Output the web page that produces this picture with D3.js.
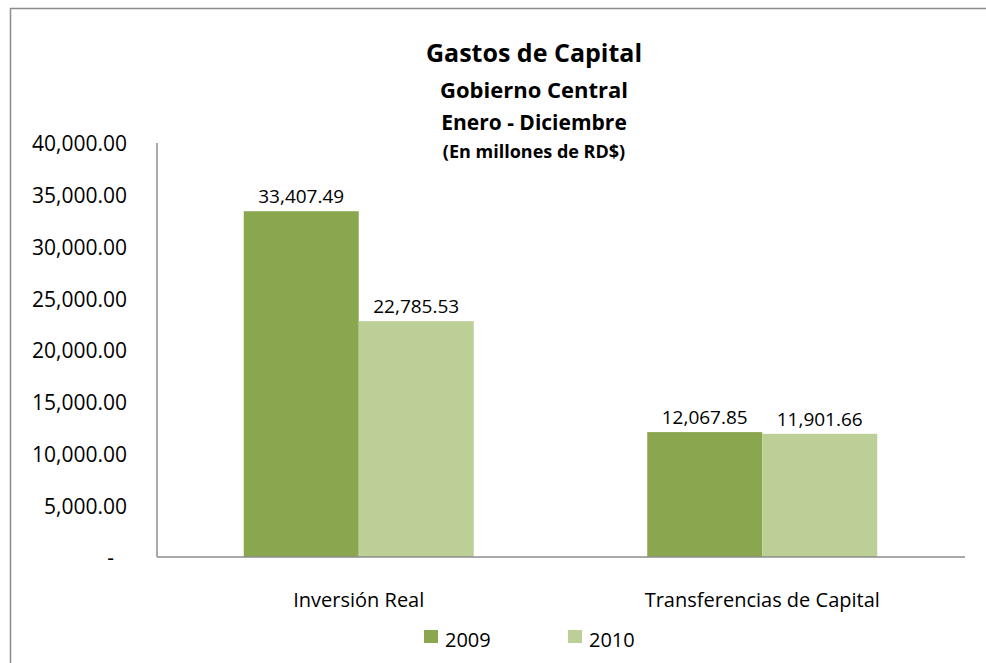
<!DOCTYPE html>
<html>
<head>
<meta charset="utf-8">
<script src="https://cdn.jsdelivr.net/npm/d3@7"></script>
<style>
  body { margin: 0; background: #fff; }
  svg { display: block; font-family: "Open Sans", sans-serif; }
</style>
</head>
<body>
<svg id="chart" width="986" height="663"></svg>
<script>
// chart data
var categories = ['Inversión Real', 'Transferencias de Capital'];
var seriesNames = ['2009', '2010'];
var values2009 = [33407.49, 12067.85];
var values2010 = [22785.53, 11901.66];
var yTicks = [0, 5000, 10000, 15000, 20000, 25000, 30000, 35000, 40000];
var titleLines = ['Gastos de Capital', 'Gobierno Central', 'Enero - Diciembre', '(En millones de RD$)'];

var colors = ['#8aa64f', '#bbcf97'];
var svg = d3.select('#chart');

// outer frame (runs past the picture on right and bottom)
svg.append('rect')
  .attr('x', 10.5).attr('y', 8.5)
  .attr('width', 1000).attr('height', 700)
  .attr('fill', 'none')
  .attr('stroke', '#8c8c8c')
  .attr('stroke-width', 1.5);

var plot = { left: 157, right: 964, top: 143, bottom: 557 };

var x0 = d3.scaleBand()
  .domain(categories)
  .range([plot.left, plot.right])
  .paddingInner(0.43)
  .paddingOuter(0.215);

var x1 = d3.scaleBand()
  .domain(seriesNames)
  .range([0, x0.bandwidth()]);

var y = d3.scaleLinear()
  .domain([0, 40000])
  .range([plot.bottom, plot.top]);

var fmt = d3.format(',.2f');

// y axis labels
var yAxis = d3.axisLeft(y)
  .tickValues(yTicks)
  .tickSize(0)
  .tickPadding(30)
  .tickFormat(function (d) { return d === 0 ? '-' : fmt(d); });

var gy = svg.append('g')
  .attr('transform', 'translate(' + plot.left + ',0)')
  .call(yAxis);
gy.select('.domain').remove();
gy.selectAll('text')
  .attr('font-size', 21)
  .attr('fill', '#000')
  .attr('dy', '0.38em')
  .attr('dx', function (d) { return d === 0 ? -13 : 0; })
  .attr('font-family', '"Open Sans", sans-serif');

var rows = [values2009, values2010];
var groups = svg.append('g').selectAll('g')
  .data(categories)
  .join('g')
  .attr('transform', function (d) { return 'translate(' + x0(d) + ',0)'; });

groups.selectAll('rect')
  .data(function (d, i) {
    return seriesNames.map(function (s, j) { return { s: s, v: rows[j][i], j: j }; });
  })
  .join('rect')
  .attr('x', function (d) { return x1(d.s); })
  .attr('y', function (d) { return y(d.v); })
  .attr('width', x1.bandwidth())
  .attr('height', function (d) { return y(0) - y(d.v); })
  .attr('fill', function (d) { return colors[d.j]; });

groups.selectAll('text.val')
  .data(function (d, i) {
    return seriesNames.map(function (s, j) { return { s: s, v: rows[j][i] }; });
  })
  .join('text')
  .attr('class', 'val')
  .attr('x', function (d) { return x1(d.s) + x1.bandwidth() / 2; })
  .attr('y', function (d) { return y(d.v) - 8; })
  .attr('text-anchor', 'middle')
  .attr('font-size', 19)
  .text(function (d) { return fmt(d.v); });

// axis lines
svg.append('line')
  .attr('x1', plot.left).attr('x2', plot.left)
  .attr('y1', plot.top).attr('y2', plot.bottom)
  .attr('stroke', '#8c8c8c').attr('stroke-width', 1.5);
svg.append('line')
  .attr('x1', plot.left).attr('x2', plot.right + 1)
  .attr('y1', plot.bottom).attr('y2', plot.bottom)
  .attr('stroke', '#8c8c8c').attr('stroke-width', 1.5);

// category labels
svg.append('g').selectAll('text')
  .data(categories)
  .join('text')
  .attr('x', function (d) { return x0(d) + x0.bandwidth() / 2; })
  .attr('y', 607)
  .attr('text-anchor', 'middle')
  .attr('font-size', 20)
  .text(function (d) { return d; });

// titles
var titleY = [62, 98, 130, 158];
var titleSize = [25, 22, 21, 18];
svg.append('g').selectAll('text')
  .data(titleLines)
  .join('text')
  .attr('x', 534)
  .attr('y', function (d, i) { return titleY[i]; })
  .attr('text-anchor', 'middle')
  .attr('font-weight', 'bold')
  .attr('font-size', function (d, i) { return titleSize[i]; })
  .text(function (d) { return d; });

// legend
var legendX = [424, 568];
var legend = svg.append('g').selectAll('g')
  .data(seriesNames)
  .join('g')
  .attr('transform', function (d, i) { return 'translate(' + legendX[i] + ',630)'; });
legend.append('rect')
  .attr('width', 14).attr('height', 13)
  .attr('fill', function (d, i) { return colors[i]; });
legend.append('text')
  .attr('x', 21).attr('y', 17)
  .attr('font-size', 20)
  .text(function (d) { return d; });
</script>
</body>
</html>
